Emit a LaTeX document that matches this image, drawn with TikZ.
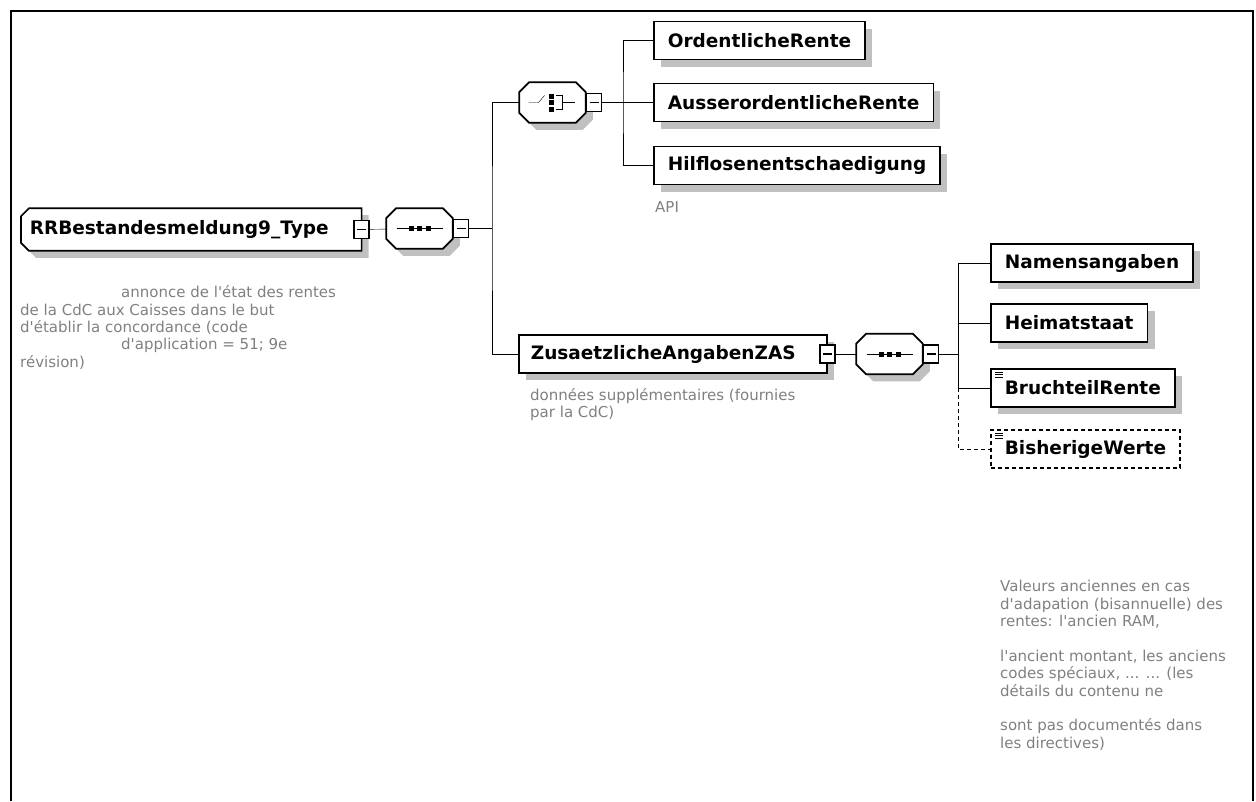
\documentclass[tikz,border=0pt]{standalone}
\usepackage{fontspec}
\setmainfont{DejaVu Sans}[Ligatures=TeXOff]
\usepackage{xcolor}
\definecolor{notegray}{RGB}{128,128,128}
\definecolor{shadegray}{RGB}{192,192,192}
\usepackage{tikz}
\usetikzlibrary{shadows,positioning,backgrounds}

\begin{document}
\begin{tikzpicture}[x=1pt,y=-1pt,line width=1.6pt]
  \tikzstyle{elembase}=[rectangle,draw,line width=1.7pt,fill=white,minimum height=38pt,inner xsep=14pt,anchor=west,font=\fontsize{18.5}{20}\selectfont\bfseries]
  \tikzstyle{elem}=[elembase,drop shadow={shadow xshift=7pt,shadow yshift=-7pt,fill=shadegray,opacity=1}]
  \tikzstyle{rootbox}=[rectangle,inner xsep=8pt,minimum height=41pt,text width=323pt,align=left,anchor=west,font=\fontsize{18.5}{20}\selectfont\bfseries]
  \tikzstyle{compositor}=[rectangle,minimum width=65pt,minimum height=39pt,inner sep=0pt]
  \tikzstyle{outline}=[line width=1.7pt,fill=white,preaction={fill=shadegray,transform canvas={shift={(7pt,-7pt)}}}]
  \tikzstyle{minusbox}=[rectangle,draw,line width=1.6pt,fill=white,minimum width=15pt,minimum height=18pt,inner sep=0pt,path picture={
      \draw ([xshift=3pt]path picture bounding box.west) -- ([xshift=-3pt]path picture bounding box.east);}]
  \tikzstyle{attricon}=[path picture={
      \foreach \d in {3,5.5,8} \draw[solid,line width=1pt] ([xshift=4pt,yshift=-\d pt]path picture bounding box.north west) -- ++(8pt,0pt);}]
  \tikzstyle{note}=[font=\fontsize{15}{17.4}\selectfont,text=notegray,inner sep=0pt,align=left,anchor=north west]

  \useasboundingbox (0,0) rectangle (1256,801);
  \draw[line width=2.7pt] (11,801) -- (11,11) -- (1253,11) -- (1253,801);

  % root, compositors (outlines drawn behind)
  \node[rootbox] (root) at (21,229.5) {RRBestandesmeldung9\_Type};
  \node[compositor] (seq1) at (419.5,228.5) {};
  \node[compositor] (choice) at (552.5,102.5) {};
  \node[compositor] (seq2) at (889.5,354) {};

  \begin{pgfonlayer}{background}
    \draw[outline] ([xshift=8pt]root.north west) -- (root.north east) -- (root.south east) -- ([xshift=8pt]root.south west) -- ([yshift=8pt]root.south west) -- ([yshift=-8pt]root.north west) -- cycle;
    \foreach \n in {seq1,choice,seq2}
      \draw[outline] ([xshift=10pt]\n.north west) -- ([xshift=-10pt]\n.north east) -- ([yshift=-10pt]\n.north east) -- ([yshift=10pt]\n.south east) -- ([xshift=-10pt]\n.south east) -- ([xshift=10pt]\n.south west) -- ([yshift=10pt]\n.south west) -- ([yshift=-10pt]\n.north west) -- cycle;
  \end{pgfonlayer}

  % compositor icons
  \foreach \n in {seq1,seq2} {
    \draw ([xshift=-23pt]\n.center) -- ([xshift=23pt]\n.center);
    \foreach \d in {-8.5,0,8.5} \fill ([xshift=\d pt]\n.center) +(-2.5pt,-2.5pt) rectangle +(2.5pt,2.5pt);
  }
  \draw ([xshift=-24pt]choice.center) -- ([xshift=-14pt]choice.center) -- ([xshift=-8pt,yshift=7pt]choice.center);
  \foreach \d in {-6.5,0,6.5} \fill ([xshift=-1.5pt,yshift=\d pt]choice.center) +(-2.5pt,-2.5pt) rectangle +(2.5pt,2.5pt);
  \draw ([xshift=3.5pt,yshift=7pt]choice.center) -- ([xshift=9.5pt,yshift=7pt]choice.center) -- ([xshift=9.5pt,yshift=-7pt]choice.center) -- ([xshift=3.5pt,yshift=-7pt]choice.center);
  \draw ([xshift=9.5pt]choice.center) -- ([xshift=22pt]choice.center);

  \node[minusbox] (root-m) at (root.east) {};
  \node[minusbox,right=0pt of seq1] (seq1-m) {};
  \node[minusbox,right=0pt of choice] (choice-m) {};
  \node[minusbox,right=0pt of seq2] (seq2-m) {};
  \coordinate (bus1) at (492,228.5);
  \coordinate (bus2) at (623,102.5);
  \coordinate (bus3) at (958,354);

  % choice children
  \node[elem] (ord) at (653,40.5) {OrdentlicheRente};
  \node[elem] (auss) at (653,102.5) {AusserordentlicheRente};
  \node[elem] (hilf) at (653,165.5) {Hilflosenentschaedigung};

  % ZAS part
  \node[elem,inner xsep=12pt,text width=284pt,align=left] (zus) at (518,354) {ZusaetzlicheAngabenZAS};
  \node[minusbox] (zus-m) at (zus.east) {};
  \node[elem] (nam) at (990,263) {Namensangaben};
  \node[elem] (heim) at (990,323) {Heimatstaat};
  \node[elem,attricon] (bruch) at (990,388) {BruchteilRente};
  \node[elembase,attricon,dash pattern=on 4pt off 3pt] (bish) at (990,449) {BisherigeWerte};

  % notes
  \node[note] (rootdoc) at (20,285.5) {\hspace*{101pt}annonce de l'état des rentes\\de la CdC aux Caisses dans le but\\d'établir la concordance (code\\\hspace*{101pt}d'application = 51; 9e\\révision)};
  \node[note] (apidoc) at (655,201) {API};
  \node[note] (zusdoc) at (530,388) {données supplémentaires (fournies\\par la CdC)};
  \node[note] (bishdoc) at (1000,580) {Valeurs anciennes en cas\\d'adapation (bisannuelle) des\\rentes: l'ancien RAM,\\[17.4pt]l'ancient montant, les anciens\\codes spéciaux, ... ... (les\\détails du contenu ne\\[17.4pt]sont pas documentés dans\\les directives)};

  % connectors
  \draw (root-m) -- (seq1);
  \draw (seq1-m) -- (bus1);
  \draw (choice.west) -| (bus1) |- (zus.west);
  \draw (choice-m) -- (bus2);
  \draw (ord.west) -| (bus2) |- (hilf.west);
  \draw (bus2) -- (auss.west);
  \draw (zus-m) -- (seq2);
  \draw (seq2-m) -- (bus3);
  \draw (nam.west) -| (bus3) |- (bruch.west);
  \draw (heim.west -| bus3) -- (heim.west);
  \draw[dash pattern=on 4pt off 3pt] (bruch.west -| bus3) |- (bish.west);
\end{tikzpicture}
\end{document}
